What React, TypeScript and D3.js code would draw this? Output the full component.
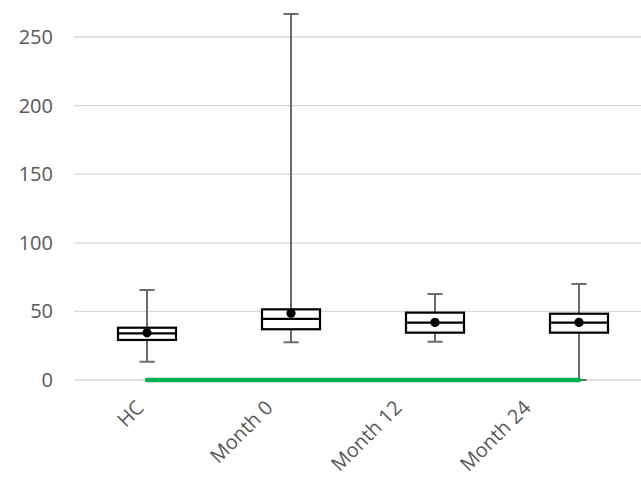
import React from "react";
import * as d3 from "d3";

const categories = ["HC", "Month 0", "Month 12", "Month 24"];
const minValues = [13.3, 27.5, 27.9, 0];
const q1Values = [29.2, 37.0, 34.5, 34.5];
const medianValues = [34.0, 44.5, 41.8, 41.8];
const q3Values = [38.1, 51.5, 49.1, 48.3];
const maxValues = [65.6, 266.8, 62.7, 70.0];
const meanValues = [34.4, 48.6, 42.0, 42.0];
const lineValues = [0, 0, 0, 0];
const yTicks = [0, 50, 100, 150, 200, 250];

const W = 641;
const H = 482;
const font = "'Open Sans', sans-serif";

export default function App() {
  const x = d3.scaleBand<string>().domain(categories).range([75, 651]).paddingInner(0).paddingOuter(0);
  const y = d3.scaleLinear().domain([0, 250]).range([380, 37]);
  const labelX = d3.scalePoint<string>().domain(categories).range([145, 532]);
  const bw = 58;
  const capW = 15;
  const cx = (c: string) => (x(c) as number) + x.bandwidth() / 2;
  const line = d3
    .line<number>()
    .x((_, i) => cx(categories[i]))
    .y((v) => y(v));

  return (
    <svg width={W} height={H} style={{ position: "absolute", left: 0, top: 0 }}>
      <rect width={W} height={H} fill="#fff" />
      {yTicks.map((t) => (
        <g key={t}>
          <line x1={74} x2={W} y1={y(t)} y2={y(t)} stroke="#d9d9d9" strokeWidth={1.3} />
          <text x={53} y={y(t)} dy="0.35em" textAnchor="end" fontFamily={font} fontSize={20} fill="#595959">
            {t}
          </text>
        </g>
      ))}
      {categories.map((c, i) => {
        const m = cx(c);
        return (
          <g key={c}>
            <line x1={m} x2={m} y1={y(maxValues[i])} y2={y(minValues[i])} stroke="#6b6b6b" strokeWidth={2} />
            <line x1={m - capW / 2} x2={m + capW / 2} y1={y(maxValues[i])} y2={y(maxValues[i])} stroke="#6b6b6b" strokeWidth={2} />
            <line x1={m - capW / 2} x2={m + capW / 2} y1={y(minValues[i])} y2={y(minValues[i])} stroke="#6b6b6b" strokeWidth={2} />
            <rect
              x={m - bw / 2}
              y={y(q3Values[i])}
              width={bw}
              height={y(q1Values[i]) - y(q3Values[i])}
              fill="#fff"
              stroke="#000"
              strokeWidth={2.2}
            />
            <line x1={m - bw / 2} x2={m + bw / 2} y1={y(medianValues[i])} y2={y(medianValues[i])} stroke="#000" strokeWidth={2.2} />
            <circle cx={m} cy={y(meanValues[i])} r={4.6} fill="#000" />
          </g>
        );
      })}
      <path d={line(lineValues) || ""} fill="none" stroke="#00b050" strokeWidth={4.4} strokeLinecap="round" />
      {categories.map((c) => (
        <text
          key={c}
          transform={`translate(${labelX(c)},${409}) rotate(-45)`}
          textAnchor="end"
          fontFamily={font}
          fontSize={20}
          fill="#595959"
        >
          {c}
        </text>
      ))}
    </svg>
  );
}
